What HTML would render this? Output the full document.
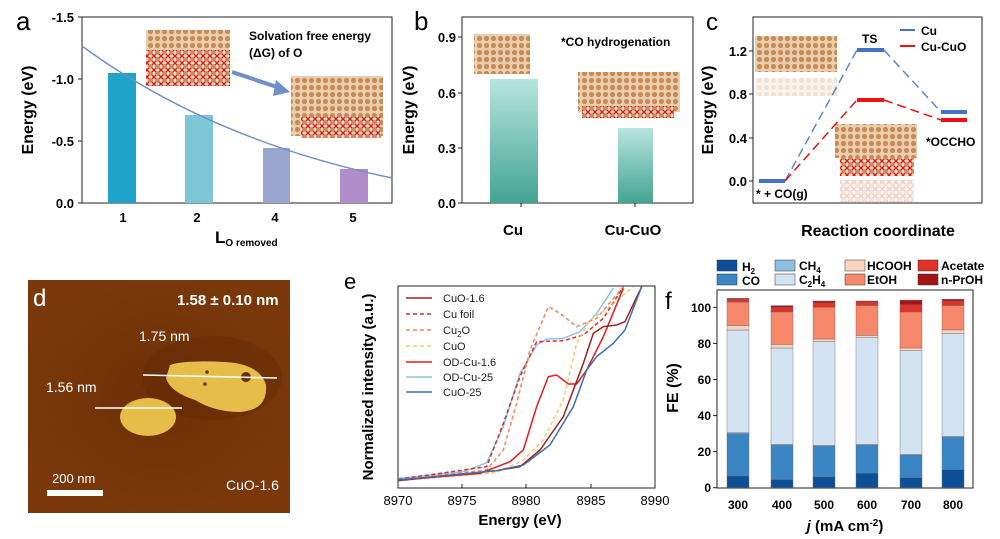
<!DOCTYPE html>
<html><head><meta charset="utf-8"><style>
html,body{margin:0;padding:0;background:#fff}
svg{display:block;font-family:"Liberation Sans",Arial,sans-serif}
</style></head><body>
<svg width="1000" height="539" viewBox="0 0 1000 539" xmlns="http://www.w3.org/2000/svg">
<defs>
<pattern id="cu" width="7" height="7" patternUnits="userSpaceOnUse"><rect width="7" height="7" fill="#e9cfb0"/><circle cx="3.5" cy="3.5" r="2.6" fill="#c98b55"/></pattern>
<pattern id="cuo" width="7" height="7" patternUnits="userSpaceOnUse"><rect width="7" height="7" fill="#f3d6c8"/><path d="M0 0L7 7M7 0L0 7" stroke="#d81e1e" stroke-width="1.4"/><circle cx="3.5" cy="3.5" r="2.3" fill="#c98b55"/></pattern>
<linearGradient id="tg" x1="0" y1="0" x2="0" y2="1"><stop offset="0" stop-color="#b8e5de"/><stop offset="1" stop-color="#43a493"/></linearGradient>
<radialGradient id="bg" cx="0.5" cy="0.5" r="0.6"><stop offset="0" stop-color="#6e3006"/><stop offset="1" stop-color="#7b390b"/></radialGradient>
</defs>

<!-- Panel a -->
<text x="16" y="30" font-size="26">a</text>
<rect x="82" y="17" width="310" height="186" fill="none" stroke="#222" stroke-width="1"/>
<g font-size="13" font-weight="bold" text-anchor="end">
<text x="74" y="22">-1.5</text><text x="74" y="84">-1.0</text><text x="74" y="146">-0.5</text><text x="74" y="208">0.0</text></g>
<g stroke="#222"><line x1="82" y1="17" x2="78" y2="17"/><line x1="82" y1="79" x2="78" y2="79"/><line x1="82" y1="141" x2="78" y2="141"/><line x1="82" y1="203" x2="78" y2="203"/></g>
<rect x="108" y="73" width="28" height="130" fill="#1ea3c9"/>
<rect x="185" y="115" width="28" height="88" fill="#7cc6d6"/>
<rect x="263" y="148" width="27" height="55" fill="#9aa6cf"/>
<rect x="340" y="169" width="28" height="34" fill="#b08cc9"/>
<path d="M82 46 Q210 140 392 178" fill="none" stroke="#6f8fc8" stroke-width="1.5"/>
<g font-size="13" font-weight="bold" text-anchor="middle"><text x="123" y="222">1</text><text x="197" y="222">2</text><text x="275" y="222">4</text><text x="353" y="222">5</text></g>
<text x="215" y="243" font-size="17" font-weight="bold">L<tspan font-size="10" dy="3">O removed</tspan></text>
<text transform="translate(33,110) rotate(-90)" font-size="16" font-weight="bold" text-anchor="middle">Energy (eV)</text>
<rect x="146" y="30" width="84" height="56" fill="url(#cuo)"/><rect x="146" y="30" width="84" height="20" fill="url(#cu)"/>
<rect x="291" y="76" width="92" height="60" fill="url(#cu)"/><rect x="301" y="116" width="80" height="22" fill="url(#cuo)"/>
<path d="M232 72 L280 88" stroke="#6f8fc8" stroke-width="4"/><path d="M276 80 L290 92 L273 96Z" fill="#6f8fc8"/>
<text x="249" y="40" font-size="12" font-weight="bold">Solvation free energy</text>
<text x="249" y="57" font-size="12" font-weight="bold">(ΔG) of O</text>

<!-- Panel b -->
<text x="414" y="30" font-size="26">b</text>
<rect x="462" y="17" width="231" height="186" fill="none" stroke="#222"/>
<g font-size="13" font-weight="bold" text-anchor="end"><text x="456" y="42">0.9</text><text x="456" y="98">0.6</text><text x="456" y="153">0.3</text><text x="456" y="208">0.0</text></g>
<g stroke="#222"><line x1="462" y1="37" x2="458" y2="37"/><line x1="462" y1="93" x2="458" y2="93"/><line x1="462" y1="148" x2="458" y2="148"/><line x1="462" y1="203" x2="458" y2="203"/><line x1="521" y1="203" x2="521" y2="207"/><line x1="635" y1="203" x2="635" y2="207"/></g>
<rect x="490" y="79" width="48" height="124" fill="url(#tg)"/>
<rect x="618" y="128" width="35" height="75" fill="url(#tg)"/>
<rect x="474" y="34" width="56" height="40" fill="url(#cu)"/>
<rect x="578" y="72" width="102" height="40" fill="url(#cu)"/><rect x="582" y="106" width="92" height="12" fill="url(#cuo)"/>
<text x="561" y="46" font-size="12" font-weight="bold">*CO hydrogenation</text>
<text transform="translate(414,110) rotate(-90)" font-size="16" font-weight="bold" text-anchor="middle">Energy (eV)</text>
<g font-size="15" font-weight="bold" text-anchor="middle"><text x="513" y="235">Cu</text><text x="633" y="235">Cu-CuO</text></g>

<!-- Panel c -->
<text x="706" y="30" font-size="24">c</text>
<rect x="753" y="17" width="229" height="186" fill="none" stroke="#222"/>
<g font-size="13" font-weight="bold" text-anchor="end"><text x="747" y="56">1.2</text><text x="747" y="99">0.8</text><text x="747" y="143">0.4</text><text x="747" y="186">0.0</text></g>
<g stroke="#222"><line x1="753" y1="51" x2="749" y2="51"/><line x1="753" y1="94" x2="749" y2="94"/><line x1="753" y1="138" x2="749" y2="138"/><line x1="753" y1="181" x2="749" y2="181"/></g>
<rect x="755" y="36" width="82" height="36" fill="url(#cu)"/><rect x="755" y="78" width="82" height="18" fill="url(#cu)" opacity="0.25"/>
<rect x="835" y="124" width="82" height="34" fill="url(#cu)"/><rect x="840" y="156" width="74" height="20" fill="url(#cuo)"/><rect x="840" y="180" width="74" height="22" fill="url(#cuo)" opacity="0.25"/>
<g stroke-width="1.5" fill="none" stroke-dasharray="9,5">
<path d="M785 181 L857 50 M884 50 L941 112" stroke="#5b86d0"/>
<path d="M785 181 L857 100 M884 100 L941 120" stroke="#e11"/></g>
<g stroke-width="4"><line x1="759" y1="181" x2="785" y2="181" stroke="#4472c4"/><line x1="857" y1="50" x2="884" y2="50" stroke="#4472c4"/><line x1="941" y1="112" x2="967" y2="112" stroke="#4472c4"/>
<line x1="857" y1="100" x2="884" y2="100" stroke="#e11"/><line x1="941" y1="120" x2="967" y2="120" stroke="#e11"/></g>
<line x1="900" y1="30" x2="915" y2="30" stroke="#4472c4" stroke-width="2"/><line x1="900" y1="46" x2="915" y2="46" stroke="#e11" stroke-width="2"/>
<g font-size="12" font-weight="bold"><text x="921" y="35">Cu</text><text x="921" y="51">Cu-CuO</text><text x="862" y="43">TS</text><text x="926" y="146">*OCCHO</text><text x="756" y="198">* + CO(g)</text></g>
<text transform="translate(713,110) rotate(-90)" font-size="16" font-weight="bold" text-anchor="middle">Energy (eV)</text>
<text x="878" y="236" font-size="16" font-weight="bold" text-anchor="middle">Reaction coordinate</text>

<!-- Panel d -->
<rect x="28" y="280" width="262" height="233" fill="url(#bg)"/>
<ellipse cx="212" cy="378" rx="70" ry="42" fill="#5e2805" opacity="0.35"/>
<path d="M170 365 Q185 360 225 362 Q260 364 266 385 Q268 410 240 412 Q215 412 195 400 Q170 392 166 378Z" fill="#e7bd4a"/>
<ellipse cx="148" cy="417" rx="28" ry="19" fill="#e7bd4a"/>
<circle cx="246" cy="377" r="5" fill="#6b2f06"/><circle cx="207" cy="372" r="1.8" fill="#6b2f06"/><circle cx="205" cy="384" r="1.8" fill="#6b2f06"/>
<line x1="143" y1="375" x2="277" y2="378" stroke="#fff" stroke-width="1.5"/>
<line x1="95" y1="408" x2="182" y2="408" stroke="#fff" stroke-width="1.5"/>
<rect x="47" y="490" width="56" height="6" fill="#fff"/>
<g fill="#fff"><text x="33" y="306" font-size="24">d</text><text x="177" y="305" font-size="15" font-weight="bold">1.58 ± 0.10 nm</text>
<text x="139" y="341" font-size="14">1.75 nm</text><text x="46" y="392" font-size="14">1.56 nm</text><text x="52" y="483" font-size="13">200 nm</text><text x="226" y="490" font-size="14">CuO-1.6</text></g>

<!-- Panel e -->
<text x="344" y="289" font-size="22">e</text>
<rect x="398" y="286" width="257" height="202" fill="none" stroke="#222"/>
<g stroke="#222"><line x1="398" y1="488" x2="398" y2="484"/><line x1="462" y1="488" x2="462" y2="484"/><line x1="526" y1="488" x2="526" y2="484"/><line x1="591" y1="488" x2="591" y2="484"/><line x1="655" y1="488" x2="655" y2="484"/></g>
<g font-size="13" text-anchor="middle"><text x="398" y="505">8970</text><text x="462" y="505">8975</text><text x="526" y="505">8980</text><text x="591" y="505">8985</text><text x="655" y="505">8990</text></g>
<text x="520" y="525" font-size="15" font-weight="bold" text-anchor="middle">Energy (eV)</text>
<text transform="translate(373,387) rotate(-90)" font-size="15" font-weight="bold" text-anchor="middle">Normalized intensity (a.u.)</text>
<svg x="398" y="286" width="257" height="202" viewBox="398 286 257 202" overflow="hidden">
<g transform="translate(330,260) scale(0.33333)" fill="none" stroke-width="4.5">
<polyline stroke="#8ec3e0" points="205,655 400,635 470,608 520,500 570,340 620,255 650,237 700,235 750,215 800,160 850,85"/>
<polyline stroke="#d43030" stroke-dasharray="12,8" points="205,658 470,620 520,490 570,350 620,245 700,242 760,225 820,175 880,80"/>
<polyline stroke="#f08a60" stroke-dasharray="12,8" points="205,660 470,630 520,570 560,430 600,270 655,140 690,160 740,200 800,175 880,80"/>
<polyline stroke="#f8c870" stroke-dasharray="12,8" points="205,662 500,638 580,600 640,540 700,420 740,250 780,180 840,140 910,80"/>
<polyline stroke="#e41c1c" points="205,660 450,640 540,605 580,570 620,440 655,350 680,345 715,372 740,372 770,330 820,230 880,85"/>
<polyline stroke="#a02020" points="205,662 500,632 570,620 630,570 700,470 760,310 790,220 820,200 860,195 885,185 935,80"/>
<polyline stroke="#3d6eb4" points="205,660 500,632 580,615 660,555 730,440 770,330 800,290 850,250 885,210 935,80"/>
</g></svg>
<g stroke-width="1.5">
<line x1="406" y1="298" x2="432" y2="298" stroke="#a02020"/>
<line x1="406" y1="314" x2="432" y2="314" stroke="#d43030" stroke-dasharray="4,3"/>
<line x1="406" y1="330" x2="432" y2="330" stroke="#f08a60" stroke-dasharray="4,3"/>
<line x1="406" y1="346" x2="432" y2="346" stroke="#f8c870" stroke-dasharray="4,3"/>
<line x1="406" y1="362" x2="432" y2="362" stroke="#e41c1c"/>
<line x1="406" y1="377" x2="432" y2="377" stroke="#8ec3e0"/>
<line x1="406" y1="392" x2="432" y2="392" stroke="#3d6eb4"/></g>
<g font-size="11" fill="#222"><text x="443" y="302">CuO-1.6</text><text x="443" y="318">Cu foil</text><text x="443" y="334">Cu<tspan font-size="8" dy="3">2</tspan><tspan dy="-3">O</tspan></text><text x="443" y="350">CuO</text><text x="443" y="366">OD-Cu-1.6</text><text x="443" y="381">OD-Cu-25</text><text x="443" y="396">CuO-25</text></g>

<!-- Panel f -->
<text x="665" y="309" font-size="24">f</text>
<rect x="717" y="290" width="256" height="198" fill="none" stroke="#222"/>
<g font-size="12" font-weight="bold" text-anchor="end"><text x="711" y="492">0</text><text x="711" y="456">20</text><text x="711" y="420">40</text><text x="711" y="384">60</text><text x="711" y="348">80</text><text x="711" y="312">100</text></g>
<g stroke="#222"><line x1="717" y1="487.7" x2="713" y2="487.7"/><line x1="717" y1="451.6" x2="713" y2="451.6"/><line x1="717" y1="415.6" x2="713" y2="415.6"/><line x1="717" y1="379.5" x2="713" y2="379.5"/><line x1="717" y1="343.4" x2="713" y2="343.4"/><line x1="717" y1="307.3" x2="713" y2="307.3"/></g>
<text transform="translate(678,388) rotate(-90)" font-size="16" font-weight="bold" text-anchor="middle">FE (%)</text>
<g font-size="12" font-weight="bold" text-anchor="middle"><text x="738" y="509">300</text><text x="782" y="509">400</text><text x="824" y="509">500</text><text x="867" y="509">600</text><text x="911" y="509">700</text><text x="953" y="509">800</text></g>
<text x="845" y="531" font-size="15" font-weight="bold" text-anchor="middle"><tspan font-style="italic">j</tspan> (mA cm<tspan font-size="10" dy="-5">-2</tspan><tspan dy="5">)</tspan></text>
<g stroke-width="0.5" stroke="#333">
<rect x="717" y="260" width="20" height="11" fill="#0d4f96"/><rect x="717" y="274" width="20" height="11" fill="#3a86c4"/>
<rect x="775" y="260" width="20" height="11" fill="#8fbfe0"/><rect x="775" y="274" width="20" height="11" fill="#d3e3f2"/>
<rect x="845" y="260" width="20" height="11" fill="#fcd3bf"/><rect x="845" y="274" width="20" height="11" fill="#f7876a"/>
<rect x="918" y="260" width="20" height="11" fill="#e3312a"/><rect x="918" y="274" width="20" height="11" fill="#a31419"/></g>
<g font-size="12" font-weight="bold"><text x="742" y="271">H<tspan font-size="8" dy="3">2</tspan></text><text x="742" y="285">CO</text>
<text x="799" y="270">CH<tspan font-size="8" dy="3">4</tspan></text><text x="799" y="284">C<tspan font-size="8" dy="3">2</tspan><tspan dy="-3">H</tspan><tspan font-size="8" dy="3">4</tspan></text>
<text x="867" y="270">HCOOH</text><text x="867" y="284">EtOH</text><text x="941" y="270">Acetate</text><text x="941" y="284">n-PrOH</text></g>
<g stroke="#666" stroke-width="0.4">
<rect x="727" y="476" width="22" height="11.7" fill="#0d4f96"/><rect x="727" y="433.6" width="22" height="42.4" fill="#3a86c4"/><rect x="727" y="432.7" width="22" height="0.9" fill="#8fbfe0"/><rect x="727" y="330" width="22" height="102.7" fill="#d3e3f2"/><rect x="727" y="325.5" width="22" height="4.5" fill="#fcd3bf"/><rect x="727" y="302" width="22" height="23.5" fill="#f7876a"/><rect x="727" y="299.3" width="22" height="2.7" fill="#e3312a"/><rect x="727" y="298.4" width="22" height="0.9" fill="#a31419"/>
<rect x="771" y="479.6" width="22" height="8.1" fill="#0d4f96"/><rect x="771" y="445.3" width="22" height="34.3" fill="#3a86c4"/><rect x="771" y="444.4" width="22" height="0.9" fill="#8fbfe0"/><rect x="771" y="348" width="22" height="96.4" fill="#d3e3f2"/><rect x="771" y="344.4" width="22" height="3.6" fill="#fcd3bf"/><rect x="771" y="311.9" width="22" height="32.5" fill="#f7876a"/><rect x="771" y="307.4" width="22" height="4.5" fill="#e3312a"/><rect x="771" y="305.6" width="22" height="1.8" fill="#a31419"/>
<rect x="813" y="476.9" width="22" height="10.8" fill="#0d4f96"/><rect x="813" y="446.2" width="22" height="30.7" fill="#3a86c4"/><rect x="813" y="445.3" width="22" height="0.9" fill="#8fbfe0"/><rect x="813" y="341.7" width="22" height="103.6" fill="#d3e3f2"/><rect x="813" y="339" width="22" height="2.7" fill="#fcd3bf"/><rect x="813" y="307.3" width="22" height="31.7" fill="#f7876a"/><rect x="813" y="302.8" width="22" height="4.5" fill="#e3312a"/><rect x="813" y="301" width="22" height="1.8" fill="#a31419"/>
<rect x="856" y="473.3" width="22" height="14.4" fill="#0d4f96"/><rect x="856" y="445.3" width="22" height="28" fill="#3a86c4"/><rect x="856" y="444.4" width="22" height="0.9" fill="#8fbfe0"/><rect x="856" y="337.2" width="22" height="107.2" fill="#d3e3f2"/><rect x="856" y="335.4" width="22" height="1.8" fill="#fcd3bf"/><rect x="856" y="305.5" width="22" height="29.9" fill="#f7876a"/><rect x="856" y="301.9" width="22" height="3.6" fill="#e3312a"/><rect x="856" y="301" width="22" height="0.9" fill="#a31419"/>
<rect x="900" y="477.8" width="22" height="9.9" fill="#0d4f96"/><rect x="900" y="455.2" width="22" height="22.6" fill="#3a86c4"/><rect x="900" y="454.3" width="22" height="0.9" fill="#8fbfe0"/><rect x="900" y="350.7" width="22" height="103.6" fill="#d3e3f2"/><rect x="900" y="348" width="22" height="2.7" fill="#fcd3bf"/><rect x="900" y="311.9" width="22" height="36.1" fill="#f7876a"/><rect x="900" y="304.6" width="22" height="7.3" fill="#e3312a"/><rect x="900" y="300.1" width="22" height="4.5" fill="#a31419"/>
<rect x="942" y="469.7" width="22" height="18" fill="#0d4f96"/><rect x="942" y="437.2" width="22" height="32.5" fill="#3a86c4"/><rect x="942" y="436.3" width="22" height="0.9" fill="#8fbfe0"/><rect x="942" y="333.5" width="22" height="102.8" fill="#d3e3f2"/><rect x="942" y="329.9" width="22" height="3.6" fill="#fcd3bf"/><rect x="942" y="305.5" width="22" height="24.4" fill="#f7876a"/><rect x="942" y="301" width="22" height="4.5" fill="#e3312a"/><rect x="942" y="299.3" width="22" height="1.7" fill="#a31419"/>
</g>
</svg>
</body></html>
